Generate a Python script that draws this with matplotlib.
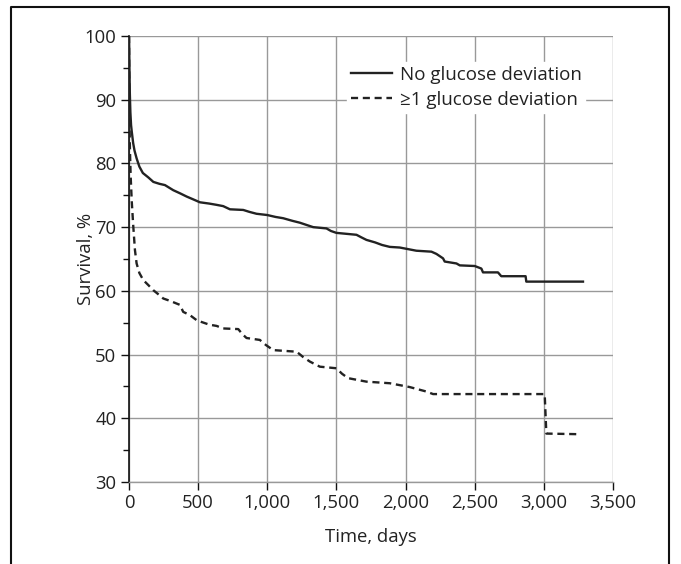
import matplotlib
matplotlib.use("Agg")
import matplotlib.pyplot as plt
from matplotlib.lines import Line2D
from matplotlib.ticker import MultipleLocator, FuncFormatter

# ---- data ----
t_none = [0, 3, 6, 10, 15, 20, 30, 40, 55, 75, 100, 140, 176, 220, 260, 320, 370, 417, 460,
          513, 580, 633, 681, 730, 826, 870, 922, 1000, 1060, 1115, 1180, 1235, 1290, 1332,
          1428, 1460, 1500, 1645, 1680, 1717, 1780, 1830, 1886, 1958, 2078, 2187, 2223, 2271,
          2283, 2368, 2392, 2500, 2548, 2560, 2668, 2692, 2868, 2873, 3283]
s_none = [100, 95, 91, 88, 86, 85, 83.2, 82, 80.8, 79.5, 78.5, 77.8, 77.1, 76.8, 76.6, 75.8,
          75.3, 74.8, 74.4, 73.9, 73.7, 73.5, 73.3, 72.8, 72.7, 72.4, 72.1, 71.9, 71.6, 71.4,
          71.0, 70.7, 70.3, 70.0, 69.8, 69.4, 69.1, 68.8, 68.4, 68.0, 67.6, 67.2, 66.9, 66.8,
          66.3, 66.15, 65.8, 65.1, 64.6, 64.3, 64.0, 63.9, 63.5, 62.9, 62.9, 62.3, 62.3,
          61.45, 61.45]

t_dev = [0, 2, 4, 7, 12, 20, 31, 43, 55, 75, 103, 140, 176, 210, 248, 300, 368, 392, 440,
         489, 513, 580, 633, 681, 790, 820, 850, 946, 990, 1043, 1212, 1260, 1308, 1380,
         1500, 1540, 1584, 1717, 1886, 1958, 2030, 2150, 2199, 3006, 3018, 3259]
s_dev = [100, 92, 86, 82, 78, 74, 70.1, 66.4, 64.3, 62.8, 61.7, 60.9, 60.1, 59.5, 58.8, 58.4,
         57.8, 56.7, 56.2, 55.4, 55.2, 54.7, 54.5, 54.1, 54.0, 53.2, 52.6, 52.3, 51.5, 50.7,
         50.45, 49.6, 48.9, 48.1, 47.85, 47.0, 46.3, 45.75, 45.5, 45.2, 44.9, 44.2, 43.8,
         43.8, 37.6, 37.5]

series_labels = ["No glucose deviation", "\u22651 glucose deviation"]
x_ticks = [0, 500, 1000, 1500, 2000, 2500, 3000, 3500]
y_ticks = [30, 40, 50, 60, 70, 80, 90, 100]

plt.rcParams['font.family'] = ['Open Sans', 'DejaVu Sans']

fig = plt.figure(figsize=(6.81, 5.64), dpi=100)
ax = fig.add_axes([129/681, 1-482/564, (613-129)/681, (482-36)/564])

line_col = '#222222'
ax.plot(t_none, s_none, color=line_col, lw=1.7, label=series_labels[0], zorder=3)
ax.plot(t_dev, s_dev, color=line_col, lw=1.7, linestyle=(0, (3, 2)),
        label=series_labels[1], zorder=3)

ax.set_xlim(0, 3500)
ax.set_ylim(30, 100)
ax.set_xticks(x_ticks)
ax.set_yticks(y_ticks)
ax.yaxis.set_minor_locator(MultipleLocator(5))
ax.xaxis.set_major_formatter(FuncFormatter(lambda v, p: f"{int(v):,}"))

ax.grid(True, which='major', color='#999999', lw=1.0, zorder=0)
ax.set_axisbelow(True)
for s in ['top', 'right']:
    ax.spines[s].set_visible(False)
ax.spines['left'].set_color('#111111')
ax.spines['left'].set_linewidth(1.2)
ax.spines['bottom'].set_color('#999999')
ax.spines['bottom'].set_linewidth(1.0)

ax.tick_params(axis='both', which='major', length=6, width=1, color='#111111',
               labelsize=13.3, labelcolor='#222222', direction='out', pad=3)
ax.tick_params(axis='y', which='minor', length=4, width=1, color='#111111')

ax.set_xlabel("Time, days", fontsize=13.3, color='#222222', labelpad=11)
ax.set_ylabel("Survival, %", fontsize=13.3, color='#222222')
ax.yaxis.set_label_coords(-0.07, 0.5)

leg = ax.legend(loc='center', bbox_to_anchor=(0.697, 0.8845), frameon=True,
                fontsize=13.5, handlelength=2.15, handletextpad=0.43, labelspacing=0.37,
                borderpad=0.2, borderaxespad=0)
leg.get_frame().set_facecolor('white')
leg.get_frame().set_edgecolor('white')
leg.get_frame().set_alpha(1)
leg.get_frame().set_boxstyle('square', pad=0)
for txt in leg.get_texts():
    txt.set_color('#222222')

# outer frame (left, top, right)
x0, x1, y0, y1 = 11/681, 669/681, 0.0, 1-7/564
fig.add_artist(Line2D([x0, x0, x1, x1], [y0, y1, y1, y0], transform=fig.transFigure,
                      color='#111111', lw=1.5))

fig.savefig("out.png", dpi=100, facecolor='white')
